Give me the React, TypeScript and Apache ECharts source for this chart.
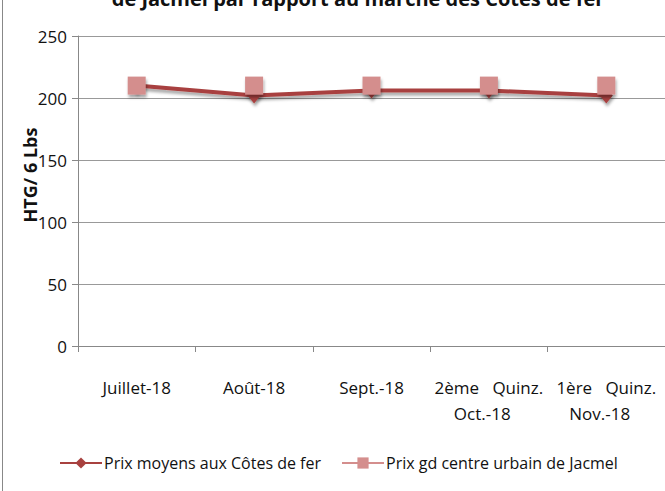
import React, { useEffect, useRef } from "react";
import * as echarts from "echarts";

const categories = ["Juillet-18", "Août-18", "Sept.-18", "2ème   Quinz.\nOct.-18   ", "1ère   Quinz.\nNov.-18   "];
const seriesCotes = [210, 202, 206, 206, 202];
const seriesJacmel = [210, 210, 210, 210, 210];
const yTicks = { min: 0, max: 250, interval: 50 };
const titleText = "de Jacmel par rapport au marché des Côtes de fer";
const yAxisName = "HTG/ 6 Lbs";
const seriesNames = ["Prix moyens aux Côtes de fer", "Prix gd centre urbain de Jacmel"];

const FONT = "'Open Sans', 'Noto Sans', sans-serif";
const DARK = "#A8413F";
const PINK = "#D48E8D";

export default function App() {
  const ref = useRef<HTMLDivElement>(null);
  useEffect(() => {
    if (!ref.current) return;
    const chart = echarts.init(ref.current, null, { renderer: "svg" });
    const shadow = { shadowBlur: 3, shadowOffsetY: 3, shadowOffsetX: 1, shadowColor: "rgba(0,0,0,0.35)" };
    chart.setOption({
      animation: false,
      backgroundColor: "#ffffff",
      title: {
        text: titleText,
        left: 353,
        textAlign: "center",
        top: -17,
        textStyle: { fontFamily: FONT, fontSize: 20, fontWeight: "bold", color: "#111" },
      },
      graphic: [
        { type: "line", shape: { x1: 2.5, y1: 0, x2: 2.5, y2: 491 }, style: { stroke: "#888", lineWidth: 1 } },
        {
          type: "text",
          x: 30,
          y: 175,
          rotation: Math.PI / 2,
          style: {
            text: yAxisName,
            fontFamily: FONT,
            fontSize: 18,
            fontWeight: "bold",
            fill: "#111",
            align: "center",
            verticalAlign: "middle",
          },
        },
      ],
      grid: { left: 78, top: 36, width: 590, height: 310, containLabel: false },
      legend: {
        top: 450,
        left: 54,
        itemWidth: 42,
        itemHeight: 14,
        itemGap: 20,
        textStyle: { fontFamily: FONT, fontSize: 16, color: "#111", padding: [0, 0, 0, -3] },
        data: seriesNames,
      },
      xAxis: {
        type: "category",
        data: categories,
        boundaryGap: true,
        axisLine: { lineStyle: { color: "#888" } },
        axisTick: { show: true, length: 6, lineStyle: { color: "#888" } },
        axisLabel: {
          interval: 0,
          margin: 28,
          fontFamily: FONT,
          fontSize: 17,
          color: "#111",
          lineHeight: 26,
          verticalAlign: "top",
        },
      },
      yAxis: {
        type: "value",
        min: yTicks.min,
        max: yTicks.max,
        interval: yTicks.interval,
        axisLine: { show: true, lineStyle: { color: "#888" } },
        axisTick: { show: true, length: 6, lineStyle: { color: "#888" } },
        axisLabel: { fontFamily: FONT, fontSize: 17, color: "#111", margin: 11 },
        splitLine: { lineStyle: { color: "#999", width: 1 } },
      },
      series: [
        {
          name: seriesNames[0],
          type: "line",
          data: seriesCotes,
          symbol: "diamond",
          symbolSize: [13, 16],
          lineStyle: { color: DARK, width: 4, ...shadow },
          itemStyle: { color: DARK, ...shadow },
        },
        {
          name: seriesNames[1],
          type: "line",
          data: seriesJacmel,
          symbol: "rect",
          symbolSize: 18,
          lineStyle: { color: PINK, width: 9, ...shadow },
          itemStyle: { color: PINK, ...shadow },
        },
      ],
    });
    return () => chart.dispose();
  }, []);
  return (
    <div
      ref={ref}
      style={{ position: "fixed", left: 0, top: 0, width: 665, height: 491 }}
    />
  );
}
